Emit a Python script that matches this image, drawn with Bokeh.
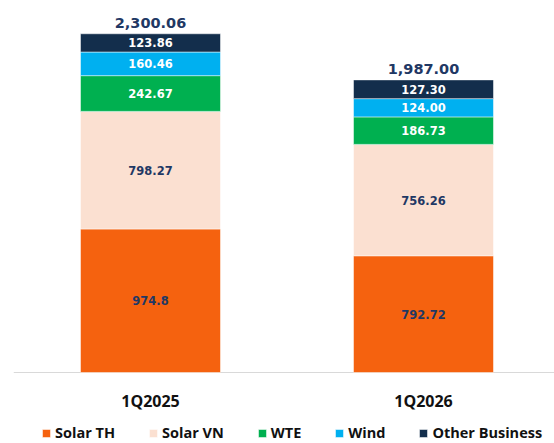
from bokeh.plotting import figure
from bokeh.models import ColumnDataSource, Range1d, Span, Legend, LegendItem
from bokeh.core.properties import value
from bokeh.embed import file_html
from bokeh.resources import INLINE

# ---- data ----
quarters = ["1Q2025", "1Q2026"]
series = ["Solar TH", "Solar VN", "WTE", "Wind", "Other Business"]
solar_th = [974.8, 792.72]
solar_vn = [798.27, 756.26]
wte = [242.67, 186.73]
wind = [160.46, 124.00]
other = [123.86, 127.30]
totals = [2300.06, 1987.00]
solar_th_labels = ["974.8", "792.72"]

# ---- styles ----
colors = ["#F5620F", "#FBE0D1", "#00B050", "#00B0F0", "#132E4C"]
text_colors = ["#1F3864", "#1F3864", "white", "white", "white"]
navy = "#1F3864"

xs = list(range(len(quarters)))
values = [solar_th, solar_vn, wte, wind, other]
keys = ["s%d" % i for i in range(len(series))]

data = {"x": xs}
for k, v in zip(keys, values):
    data[k] = v
src = ColumnDataSource(data)

p = figure(width=554, height=443,
           x_range=Range1d(-0.5018, 1.4799), y_range=Range1d(-482, 2526),
           x_axis_type=None, y_axis_type=None,
           output_backend="svg", toolbar_location=None,
           min_border_left=13, min_border_right=0, min_border_top=0, min_border_bottom=0)
p.grid.visible = False
p.outline_line_color = None
p.background_fill_color = "white"

p.add_layout(Span(location=0, dimension="width", line_color="#D9D9D9", line_width=1, level="underlay"))

rs = p.vbar_stack(keys, x="x", width=0.5128, source=src, color=colors,
                  line_color="white", line_width=0.5)

# segment labels
lx, ly, lt, lc = [], [], [], []
for j in xs:
    base = 0.0
    for i, v in enumerate(values):
        val = v[j]
        lx.append(j)
        ly.append(base + val / 2)
        if i == 0:
            lt.append(solar_th_labels[j])
        else:
            lt.append("%.2f" % val)
        lc.append(text_colors[i])
        base += val
lab_src = ColumnDataSource(dict(x=lx, y=ly, t=lt, c=lc))
p.text(x="x", y="y", text="t", source=lab_src, text_color="c",
       text_align="center", text_baseline="middle",
       text_font=value("DejaVu Sans"), text_font_style="bold", text_font_size="11.5px")

# totals
tot_src = ColumnDataSource(dict(x=xs, y=totals, t=["{:,.2f}".format(t) for t in totals]))
p.text(x="x", y="y", text="t", source=tot_src, text_color=navy,
       text_align="center", text_baseline="alphabetic", y_offset=-11,
       text_font=value("DejaVu Sans"), text_font_style="bold", text_font_size="14.5px")

# category labels
cat_src = ColumnDataSource(dict(x=xs, y=[0] * len(xs), t=quarters))
p.text(x="x", y="y", text="t", source=cat_src, text_color="#111111",
       text_align="center", text_baseline="middle", y_offset=28,
       text_font=value("Open Sans"), text_font_style="bold", text_font_size="16px")

legend = Legend(items=[LegendItem(label=s, renderers=[r]) for s, r in zip(series, rs)],
                orientation="horizontal", location=(28, 1),
                glyph_width=10, glyph_height=10, label_standoff=4, spacing=33,
                padding=0, margin=0, border_line_color=None, background_fill_alpha=0,
                label_text_font="Open Sans", label_text_font_style="bold",
                label_text_font_size="14.5px", label_text_color="#111111")
p.add_layout(legend)

open("out.html", "w").write(file_html(p, INLINE))
